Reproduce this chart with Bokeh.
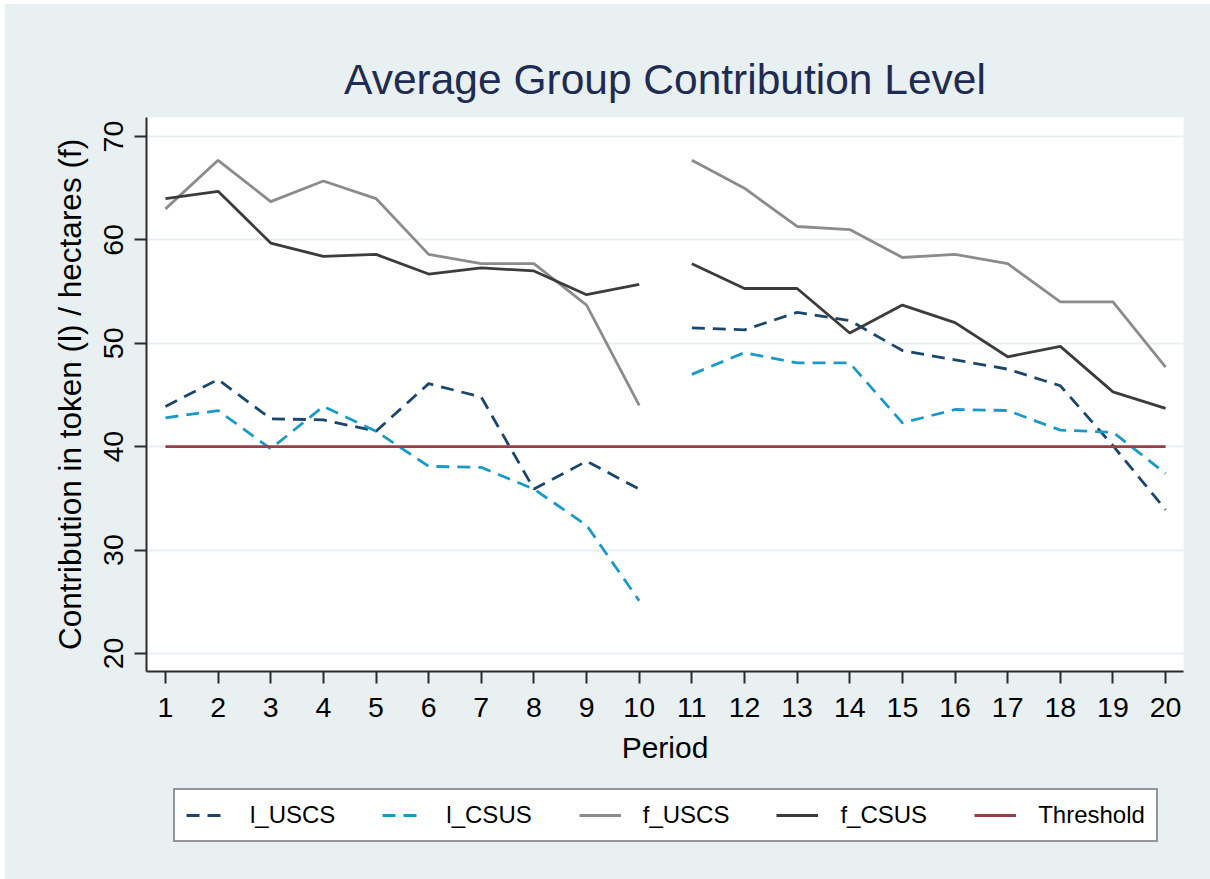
from bokeh.plotting import figure
from bokeh.layouts import column
from bokeh.models import Range1d, Legend, LegendItem, FixedTicker
from bokeh.embed import file_html
from bokeh.resources import INLINE

# ---- data ----
periods = list(range(1, 21))
l_USCS = [43.9, 46.5, 42.7, 42.6, 41.5, 46.1, 44.8, 35.9, 38.6, 35.9,
          51.5, 51.3, 53.0, 52.2, 49.3, 48.4, 47.5, 45.9, 40.1, 33.9]
l_CSUS = [42.8, 43.5, 39.8, 43.9, 41.5, 38.1, 38.0, 35.9, 32.4, 25.1,
          47.0, 49.1, 48.1, 48.1, 42.3, 43.6, 43.5, 41.6, 41.4, 37.4]
f_USCS = [63.0, 67.7, 63.7, 65.7, 64.0, 58.6, 57.7, 57.7, 53.7, 44.0,
          67.7, 65.0, 61.3, 61.0, 58.3, 58.6, 57.7, 54.0, 54.0, 47.7]
f_CSUS = [64.0, 64.7, 59.7, 58.4, 58.6, 56.7, 57.3, 57.0, 54.7, 55.7,
          57.7, 55.3, 55.3, 51.0, 53.7, 52.0, 48.7, 49.7, 45.3, 43.7]
threshold = [40, 40, 40, 40, 40, 40, 40, 40, 40, 40,
             40, 40, 40, 40, 40, 40, 40, 40, 40, 40]
# the series are broken between the two halves of the experiment
halves = [(0, 10), (10, 20)]
x_ticks = list(range(1, 21))
y_ticks = [20, 30, 40, 50, 60, 70]

FONT = "Liberation Sans"
BG = "#e9f0f2"

p = figure(frame_width=1037, frame_height=554,
           min_border_left=141, min_border_right=27,
           min_border_top=113, min_border_bottom=112,
           x_range=Range1d(0.64, 20.34), y_range=Range1d(18.26, 71.84),
           output_backend="svg", toolbar_location=None,
           background_fill_color="white", border_fill_color=BG,
           title="Average Group Contribution Level")
p.outline_line_color = None

p.title.text_font = FONT
p.title.text_font_size = "42.5px"
p.title.text_font_style = "normal"
p.title.text_color = "#1e2b52"
p.title.align = "center"
p.title.standoff = 30

# axes
for ax in (p.xaxis[0], p.yaxis[0]):
    ax.axis_line_color = "#2b2b2b"
    ax.axis_line_width = 2
    ax.major_tick_line_color = "#2b2b2b"
    ax.major_tick_line_width = 2
    ax.major_tick_out = 12
    ax.major_tick_in = 0
    ax.minor_tick_line_color = None
    ax.major_label_text_font = FONT
    ax.major_label_text_font_size = "28.5px"
    ax.major_label_text_color = "black"
    ax.axis_label_text_font = FONT
    ax.axis_label_text_font_style = "normal"
    ax.axis_label_text_color = "black"

p.xaxis.ticker = FixedTicker(ticks=x_ticks)
p.xaxis.axis_label = "Period"
p.xaxis.axis_label_text_font_size = "30px"
p.xaxis.major_label_standoff = 14
p.xaxis.axis_label_standoff = 11

p.yaxis.ticker = FixedTicker(ticks=y_ticks)
p.yaxis.axis_label = "Contribution in token (l) / hectares (f)"
p.yaxis.axis_label_text_font_size = "31.5px"
p.yaxis.major_label_orientation = "vertical"
p.yaxis.major_label_standoff = 11
p.yaxis.axis_label_standoff = 14

p.xgrid.visible = False
p.ygrid.grid_line_color = "#e8f0f3"
p.ygrid.grid_line_width = 2

series = [
    ("l_USCS", l_USCS, "#1a476f", "13 8"),
    ("l_CSUS", l_CSUS, "#1a9acb", "13 8"),
    ("f_USCS", f_USCS, "#8c8c8c", "solid"),
    ("f_CSUS", f_CSUS, "#3c3c3c", "solid"),
    ("Threshold", threshold, "#9b3d45", "solid"),
]

for name, vals, color, dash in series:
    if name == "Threshold":
        p.line(periods, vals, line_color=color, line_width=2.8, line_dash=dash)
    else:
        for a, b in halves:
            p.line(periods[a:b], vals[a:b], line_color=color, line_width=2.8,
                   line_dash=dash)

# ---- legend strip below the chart ----
# The same series are drawn again here, but the strip's ranges leave them
# out of view, so only their legend keys show.
leg = figure(frame_width=1205, frame_height=96,
             min_border_left=0, min_border_right=0,
             min_border_top=0, min_border_bottom=0,
             x_range=Range1d(-10, -9), y_range=Range1d(-10, -9),
             x_axis_type=None, y_axis_type=None,
             output_backend="svg", toolbar_location=None,
             background_fill_color=BG, border_fill_color=BG)
leg.outline_line_color = None
leg.xgrid.visible = False
leg.ygrid.visible = False

items = []
for name, vals, color, dash in series:
    r = leg.line(periods, vals, line_color=color, line_width=2.8, line_dash=dash)
    items.append(LegendItem(label=name, renderers=[r]))

legend = Legend(items=items, orientation="horizontal", location=(168, 37),
                label_text_font=FONT, label_text_font_size="24px",
                label_text_color="black",
                glyph_width=42, glyph_height=20, label_standoff=22,
                spacing=47, padding=11, margin=0,
                border_line_color="#2b2b2b", border_line_width=2,
                background_fill_color="white", background_fill_alpha=1.0)
leg.add_layout(legend, "center")

layout = column(p, leg, spacing=0, margin=(4, 0, 0, 5),
                styles={"background-color": BG})
open("out.html", "w").write(file_html(layout, INLINE))
